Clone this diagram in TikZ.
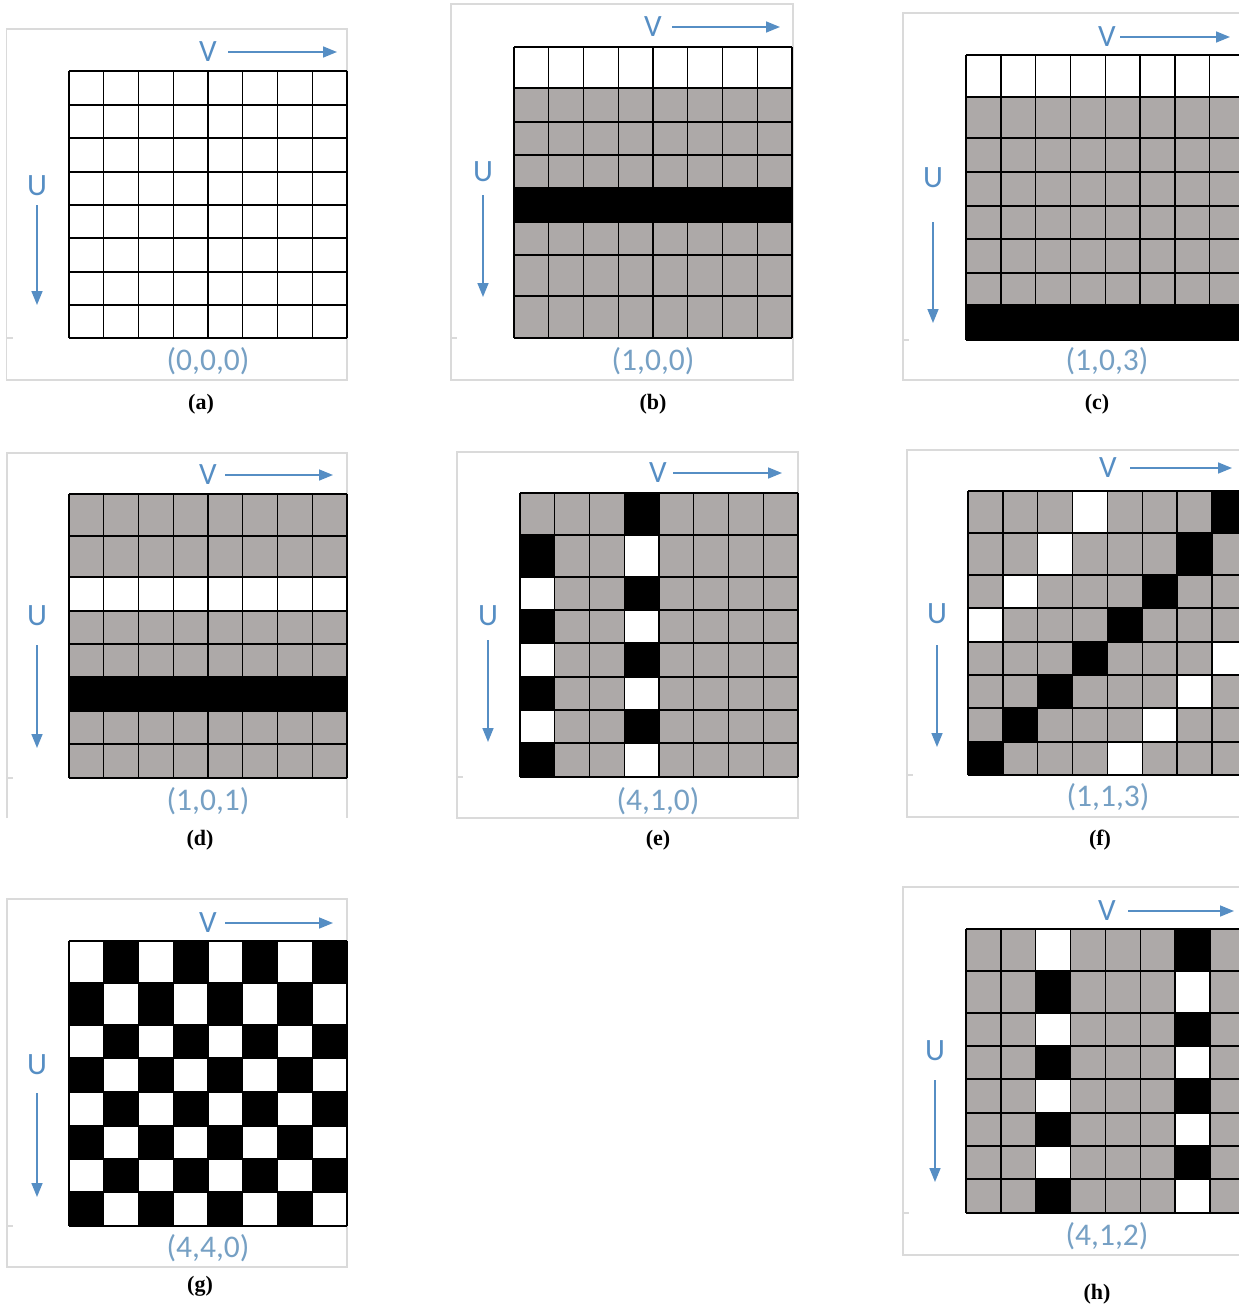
\documentclass[tikz,border=0pt]{standalone}
\usepackage{fontspec}
\setmainfont{Liberation Serif}
\setsansfont{Carlito}
\usetikzlibrary{arrows.meta}
\definecolor{cellgray}{RGB}{173,169,168}
\definecolor{axisblue}{RGB}{86,142,196}
\definecolor{labelblue}{RGB}{118,160,196}
\definecolor{framegray}{RGB}{218,218,218}
\tikzset{
  gridline/.style={black, line width=1.4pt},
  framebox/.style={framegray, line width=1.6pt},
  ticklight/.style={framegray, line width=1.2pt},
  axisarrow/.style={axisblue, line width=1.6pt, -{Triangle[length=14pt,width=11pt]}},
  axislabel/.style={text=axisblue, font=\sffamily\fontsize{31}{31}\selectfont, inner sep=0pt},
  tuplelabel/.style={text=labelblue, font=\sffamily\fontsize{31.5}{31.5}\selectfont, inner sep=0pt},
  captionlabel/.style={text=black, font=\bfseries\fontsize{22}{22}\selectfont, inner sep=0pt}
}
\newcommand{\gridpanel}[4]{%
  \foreach \r in {0,...,7}{%
    \foreach \c in {0,...,7}{%
      \pgfmathsetmacro{\ya}{#3[\r]}%
      \pgfmathsetmacro{\yb}{#3[\r+1]}%
      \pgfmathsetmacro{\xa}{#1+\c*#2}%
      \pgfmathsetmacro{\xb}{#1+(\c+1)*#2}%
      \pgfmathtruncatemacro{\kcode}{#4}%
      \ifcase\kcode\relax \def\cellcol{white}\or \def\cellcol{cellgray}\else \def\cellcol{black}\fi
      \fill[\cellcol] (\xa,\ya) rectangle (\xb,\yb);
    }%
  }%
  \pgfmathsetmacro{\xr}{#1+8*#2}%
  \pgfmathsetmacro{\yt}{#3[0]}%
  \pgfmathsetmacro{\ybot}{#3[8]}%
  \foreach \r in {0,...,8}{%
    \pgfmathsetmacro{\yy}{#3[\r]}%
    \draw[gridline] (#1,\yy) -- (\xr,\yy);
  }%
  \foreach \c in {0,...,8}{%
    \pgfmathsetmacro{\xx}{#1+\c*#2}%
    \draw[gridline] (\xx,\yt) -- (\xx,\ybot);
  }%
}
\def\rowsA{{71,105,138,172,205,238,272,305,338}}
\def\rowsB{{47,88,122,155,188,222,255,296,338}}
\def\rowsC{{55,97,138,172,206,239,273,305,340}}
\def\rowsD{{494,536,577,611,644,677,711,744,778}}
\def\rowsE{{493,535,577,610,643,677,710,743,777}}
\def\rowsF{{491,533,575,608,642,675,708,742,775}}
\def\rowsG{{941,983,1025,1058,1092,1126,1159,1192,1226}}
\def\rowsH{{929,971,1013,1046,1079,1113,1146,1179,1213}}
\begin{document}
\begin{tikzpicture}[x=1pt,y=-1pt]
\useasboundingbox (0,0) rectangle (1239,1310);
\fill[white] (0,0) rectangle (1239,1310);
\clip (0,0) rectangle (1239,1310);

% ---------- frames ----------
\draw[framebox] (6.5,29) rectangle (347,380);
\draw[framebox] (451,4) rectangle (793,380);
\draw[framebox] (903,13) rectangle (1250,380);
\draw[framebox] (7,818) -- (7,453) -- (347,453) -- (347,818);
\draw[framebox] (457,452) rectangle (798,818);
\draw[framebox] (907,450) rectangle (1250,817);
\draw[framebox] (7,899) rectangle (347,1267);
\draw[framebox] (903,887) rectangle (1250,1255);
% small ticks
\draw[ticklight] (6.5,338) -- (13,338);
\draw[ticklight] (451,338) -- (457,338);
\draw[ticklight] (903,340) -- (909,340);
\draw[ticklight] (7,778) -- (13,778);
\draw[ticklight] (457,777) -- (463,777);
\draw[ticklight] (907,775) -- (913,775);
\draw[ticklight] (7,1226) -- (13,1226);
\draw[ticklight] (903,1213) -- (909,1213);

% ---------- grids ----------
\gridpanel{69}{34.75}{\rowsA}{0}
\gridpanel{514}{34.75}{\rowsB}{ifthenelse(\r==0,0,ifthenelse(\r==4,2,1))}
\gridpanel{966}{34.8}{\rowsC}{ifthenelse(\r==0,0,ifthenelse(\r==7,2,1))}
\gridpanel{69}{34.75}{\rowsD}{ifthenelse(\r==2,0,ifthenelse(\r==5,2,1))}
\gridpanel{520}{34.75}{\rowsE}{ifthenelse(\c==0,ifthenelse(\r==0,1,ifthenelse(mod(\r,2)==1,2,0)),ifthenelse(\c==3,ifthenelse(mod(\r,2)==0,2,0),1))}
\gridpanel{968}{34.86}{\rowsF}{ifthenelse(\r+\c==3||\r+\c==11,0,ifthenelse(\r+\c==7,2,1))}
\gridpanel{69}{34.75}{\rowsG}{ifthenelse(mod(\r+\c,2)==0,0,2)}
\gridpanel{966}{34.86}{\rowsH}{ifthenelse(\c==2,ifthenelse(mod(\r,2)==0,0,2),ifthenelse(\c==6,ifthenelse(mod(\r,2)==0,2,0),1))}

% ---------- panel a ----------
\node[axislabel] (Va) at (208,52) {V};
\coordinate (va1) at (228,52); \coordinate (va2) at (337,52);
\draw[axisarrow] (va1) -- (va2);
\node[axislabel] (Ua) at (37,186) {U};
\coordinate (ua1) at (37,205); \coordinate (ua2) at (37,305);
\draw[axisarrow] (ua1) -- (ua2);
\node[tuplelabel] (La) at (208,361) {(0,0,0)};
\node[captionlabel] (Ca) at (201,404) {(a)};

% ---------- panel b ----------
\node[axislabel] (Vb) at (653,27) {V};
\coordinate (vb1) at (672,27); \coordinate (vb2) at (780,27);
\draw[axisarrow] (vb1) -- (vb2);
\node[axislabel] (Ub) at (483,172) {U};
\coordinate (ub1) at (483,195); \coordinate (ub2) at (483,297);
\draw[axisarrow] (ub1) -- (ub2);
\node[tuplelabel] (Lb) at (653,361) {(1,0,0)};
\node[captionlabel] (Cb) at (653,404) {(b)};

% ---------- panel c ----------
\node[axislabel] (Vc) at (1107,37) {V};
\coordinate (vc1) at (1120,37); \coordinate (vc2) at (1230,37);
\draw[axisarrow] (vc1) -- (vc2);
\node[axislabel] (Uc) at (933,178) {U};
\coordinate (uc1) at (933,222); \coordinate (uc2) at (933,323);
\draw[axisarrow] (uc1) -- (uc2);
\node[tuplelabel] (Lc) at (1107,361) {(1,0,3)};
\node[captionlabel] (Cc) at (1097,404) {(c)};

% ---------- panel d ----------
\node[axislabel] (Vd) at (208,475) {V};
\coordinate (vd1) at (225,475); \coordinate (vd2) at (333,475);
\draw[axisarrow] (vd1) -- (vd2);
\node[axislabel] (Ud) at (37,616) {U};
\coordinate (ud1) at (37,645); \coordinate (ud2) at (37,748);
\draw[axisarrow] (ud1) -- (ud2);
\node[tuplelabel] (Ld) at (208,801) {(1,0,1)};
\node[captionlabel] (Cd) at (200,840) {(d)};

% ---------- panel e ----------
\node[axislabel] (Ve) at (658,473) {V};
\coordinate (ve1) at (673,473); \coordinate (ve2) at (782,473);
\draw[axisarrow] (ve1) -- (ve2);
\node[axislabel] (Ue) at (488,616) {U};
\coordinate (ue1) at (488,640); \coordinate (ue2) at (488,742);
\draw[axisarrow] (ue1) -- (ue2);
\node[tuplelabel] (Le) at (658,801) {(4,1,0)};
\node[captionlabel] (Ce) at (658,840) {(e)};

% ---------- panel f ----------
\node[axislabel] (Vf) at (1108,468) {V};
\coordinate (vf1) at (1130,468); \coordinate (vf2) at (1232,468);
\draw[axisarrow] (vf1) -- (vf2);
\node[axislabel] (Uf) at (937,614) {U};
\coordinate (uf1) at (937,645); \coordinate (uf2) at (937,747);
\draw[axisarrow] (uf1) -- (uf2);
\node[tuplelabel] (Lf) at (1108,797) {(1,1,3)};
\node[captionlabel] (Cf) at (1100,840) {(f)};

% ---------- panel g ----------
\node[axislabel] (Vg) at (208,923) {V};
\coordinate (vg1) at (225,923); \coordinate (vg2) at (333,923);
\draw[axisarrow] (vg1) -- (vg2);
\node[axislabel] (Ug) at (37,1065) {U};
\coordinate (ug1) at (37,1093); \coordinate (ug2) at (37,1197);
\draw[axisarrow] (ug1) -- (ug2);
\node[tuplelabel] (Lg) at (208,1248) {(4,4,0)};
\node[captionlabel] (Cg) at (200,1286) {(g)};

% ---------- panel h ----------
\node[axislabel] (Vh) at (1107,911) {V};
\coordinate (vh1) at (1128,911); \coordinate (vh2) at (1234,911);
\draw[axisarrow] (vh1) -- (vh2);
\node[axislabel] (Uh) at (935,1051) {U};
\coordinate (uh1) at (935,1080); \coordinate (uh2) at (935,1182);
\draw[axisarrow] (uh1) -- (uh2);
\node[tuplelabel] (Lh) at (1107,1236) {(4,1,2)};
\node[captionlabel] (Ch) at (1097,1294) {(h)};
\end{tikzpicture}
\end{document}
